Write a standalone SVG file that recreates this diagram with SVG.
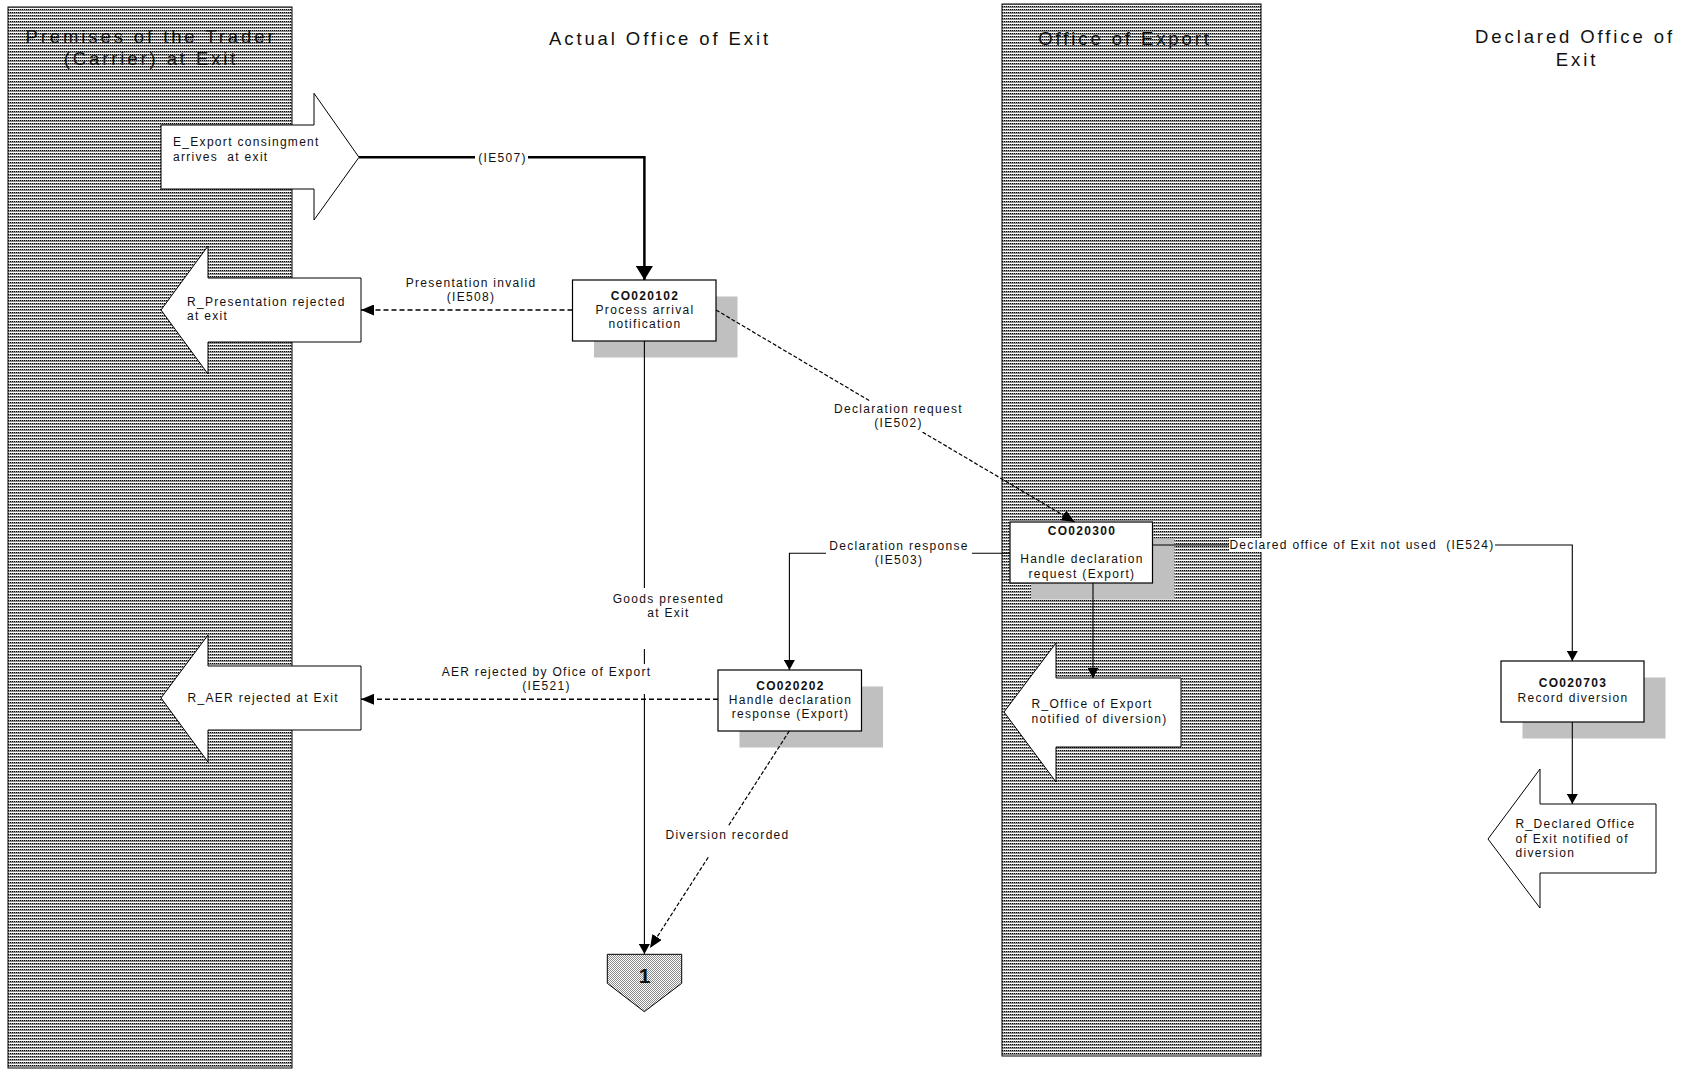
<svg xmlns="http://www.w3.org/2000/svg" width="1685" height="1069" viewBox="0 0 1685 1069">
<defs>
<pattern id="hatch" width="2" height="3" patternUnits="userSpaceOnUse">
<rect width="2" height="3" fill="#ffffff"/>
<rect x="0" y="0" width="1" height="1" fill="#000000"/>
<rect x="1" y="0" width="1" height="1" fill="#9a9a9a"/>
<rect x="0" y="1" width="2" height="1" fill="#8c8c8c"/>
</pattern>
<pattern id="dots" width="2" height="2" patternUnits="userSpaceOnUse">
<rect width="2" height="2" fill="#ffffff"/>
<rect x="0" y="0" width="1" height="1" fill="#8a8a8a"/>
<rect x="1" y="1" width="1" height="1" fill="#8a8a8a"/>
</pattern>
<marker id="ah" viewBox="0 0 10 10" refX="10" refY="5" markerWidth="10" markerHeight="11" markerUnits="userSpaceOnUse" orient="auto" preserveAspectRatio="none"><path d="M0,0L10,5L0,10z" fill="#000"/></marker>
<marker id="ahd" viewBox="0 0 10 10" refX="10" refY="5" markerWidth="13" markerHeight="11" markerUnits="userSpaceOnUse" orient="auto" preserveAspectRatio="none"><path d="M0,0L10,5L0,10z" fill="#000"/></marker>
<marker id="ahb" viewBox="0 0 10 10" refX="10" refY="5" markerWidth="14" markerHeight="17" markerUnits="userSpaceOnUse" orient="auto" preserveAspectRatio="none"><path d="M0,0L10,5L0,10z" fill="#000"/></marker>
</defs>
<style>
.t{font-family:"Liberation Sans",Arial,Helvetica,sans-serif;font-size:12px;letter-spacing:1.3px;fill:#111;}
.b{font-weight:bold;}
.ttl{font-family:"Liberation Sans",Arial,Helvetica,sans-serif;font-size:18.5px;letter-spacing:2.9px;fill:#111;text-anchor:middle;}
.m{text-anchor:middle;}
.pre{white-space:pre;}
.lane{fill:url(#hatch);stroke:#000;stroke-width:1;}
.box{fill:#fff;stroke:#000;stroke-width:1.2;}
.sh{fill:#c0c0c0;stroke:none;}
.shape{fill:#fff;stroke:#000;stroke-width:1;}
.ln{fill:none;stroke:#000;stroke-width:1.1;}
.thick{fill:none;stroke:#000;stroke-width:2.5;}
.dsh{fill:none;stroke:#000;stroke-width:1.6;stroke-dasharray:5 3;}
.dsh2{fill:none;stroke:#000;stroke-width:1.2;stroke-dasharray:4 2;}
.bg{fill:#fff;stroke:none;}
</style>

<g id="lanes">
<rect class="lane" x="8" y="7" width="284" height="1061"/>
<rect class="lane" x="1002" y="4" width="259" height="1052"/>
<text class="ttl" x="151" y="42.7">Premises of the Trader</text>
<text class="ttl" x="151" y="65">(Carrier) at Exit</text>
<text class="ttl" x="660" y="45">Actual Office of Exit</text>
<text class="ttl" x="1125" y="44.5">Office of Export</text>
<text class="ttl" x="1575" y="43">Declared Office of</text>
<text class="ttl" x="1577" y="65.5">Exit</text>
</g>

<g id="E_Export">
<polygon class="shape" points="161,125 314,125 314,93.3 359,157.3 314,220 314,189 161,189"/>
<text class="t pre" x="173" y="146">E_Export consingment</text>
<text class="t pre" x="173" y="160.7">arrives  at exit</text>
</g>

<g id="R_Presentation">
<polygon class="shape" points="361,278 208,278 208,246 161,310 208,374 208,342 361,342"/>
<text class="t" x="187" y="305.7">R_Presentation rejected</text>
<text class="t" x="187" y="320">at exit</text>
</g>

<g id="R_AER">
<polygon class="shape" points="361,666 208,666 208,635 161,698 208,762 208,730 361,730"/>
<text class="t" x="187.5" y="701.7">R_AER rejected at Exit</text>
</g>

<g id="R_OfficeExport">
<polygon class="shape" points="1181,678 1056,678 1056,643 1004,712 1056,782 1056,747 1181,747"/>
<text class="t" x="1031.5" y="708.3">R_Office of Export</text>
<text class="t" x="1031.5" y="722.7">notified of diversion)</text>
</g>

<g id="R_Declared">
<polygon class="shape" points="1656,804 1540,804 1540,769 1488,839 1540,908 1540,873 1656,873"/>
<text class="t" x="1515.5" y="828.3">R_Declared Office</text>
<text class="t" x="1515.5" y="842.7">of Exit notified of</text>
<text class="t" x="1515.5" y="856.7">diversion</text>
</g>

<g id="CO020102">
<rect class="sh" x="594" y="296.5" width="143.5" height="61"/>
<rect class="box" x="572.5" y="280" width="143.5" height="61"/>
<text class="t b m" x="645" y="300">CO020102</text>
<text class="t m" x="645" y="314.3">Process arrival</text>
<text class="t m" x="645" y="328.3">notification</text>
</g>

<g id="CO020202">
<rect class="sh" x="739.5" y="686.5" width="143.5" height="61"/>
<rect class="box" x="718" y="670" width="143.5" height="61"/>
<text class="t b m" x="790.5" y="689.5">CO020202</text>
<text class="t m" x="790.5" y="704">Handle declaration</text>
<text class="t m" x="790.5" y="718">response (Export)</text>
</g>

<g id="CO020300">
<rect class="sh" x="1031" y="538.5" width="143.5" height="61"/>
<rect class="box" x="1010" y="522" width="142.5" height="61"/>
<text class="t b m" x="1082" y="534.5">CO020300</text>
<text class="t m" x="1082" y="563.3">Handle declaration</text>
<text class="t m" x="1082" y="577.7">request (Export)</text>
</g>

<g id="CO020703">
<rect class="sh" x="1522.5" y="677.5" width="143" height="61"/>
<rect class="box" x="1501" y="661" width="143" height="61"/>
<text class="t b m" x="1573" y="687.3">CO020703</text>
<text class="t m" x="1573" y="701.7">Record diversion</text>
</g>

<g id="offpage1">
<polygon points="607.3,954.3 681.7,954.3 681.7,983.3 644.3,1011.7 607.3,983.3" fill="url(#dots)" stroke="#000" stroke-width="1"/>
<text x="644.5" y="983" font-family="Liberation Sans, Arial, sans-serif" font-size="21" font-weight="bold" text-anchor="middle" fill="#111">1</text>
</g>

<g id="connectors">
<path class="thick" d="M359,157.3H644.4V280" marker-end="url(#ahb)"/>
<path class="dsh" d="M572.5,310H361" marker-end="url(#ahd)"/>
<path class="dsh2" d="M716,310L1074.7,522" marker-end="url(#ahd)"/>
<path class="ln" d="M644.4,341V954" marker-end="url(#ah)"/>
<path class="dsh" d="M718,699.3H361" marker-end="url(#ahd)"/>
<path class="ln" d="M1010,553.3H789.4V670" marker-end="url(#ah)"/>
<path class="ln" d="M1093,583V678" marker-end="url(#ah)"/>
<path class="ln" d="M1152.5,545H1572.3V661" marker-end="url(#ah)"/>
<path class="ln" d="M1572.3,722V804" marker-end="url(#ah)"/>
<path class="dsh2" d="M789.3,731L650,948" marker-end="url(#ahd)"/>
</g>

<g id="labels">
<rect class="bg" x="475" y="150" width="53" height="14"/>
<text class="t m" x="502.5" y="161.5">(IE507)</text>
<text class="t m" x="471" y="286.7">Presentation invalid</text>
<text class="t m" x="471" y="301">(IE508)</text>
<rect class="bg" x="831" y="401" width="134" height="31"/>
<text class="t m" x="898.5" y="413">Declaration request</text>
<text class="t m" x="898.5" y="427.3">(IE502)</text>
<rect class="bg" x="826" y="539" width="146" height="29"/>
<text class="t m" x="899" y="550">Declaration response</text>
<text class="t m" x="899" y="564">(IE503)</text>
<rect class="bg" x="609" y="588" width="118" height="61"/>
<text class="t m" x="668.5" y="602.7">Goods presented</text>
<text class="t m" x="668.5" y="616.5">at Exit</text>
<rect class="bg" x="438" y="664" width="215" height="30"/>
<text class="t m" x="546.5" y="676">AER rejected by Ofice of Export</text>
<text class="t m" x="546.5" y="690">(IE521)</text>
<rect class="bg" x="1229" y="538" width="266" height="14"/>
<text class="t pre m" x="1362" y="549">Declared office of Exit not used  (IE524)</text>
<rect class="bg" x="662" y="826" width="129" height="31"/>
<text class="t m" x="727.5" y="839">Diversion recorded</text>
</g>
</svg>
